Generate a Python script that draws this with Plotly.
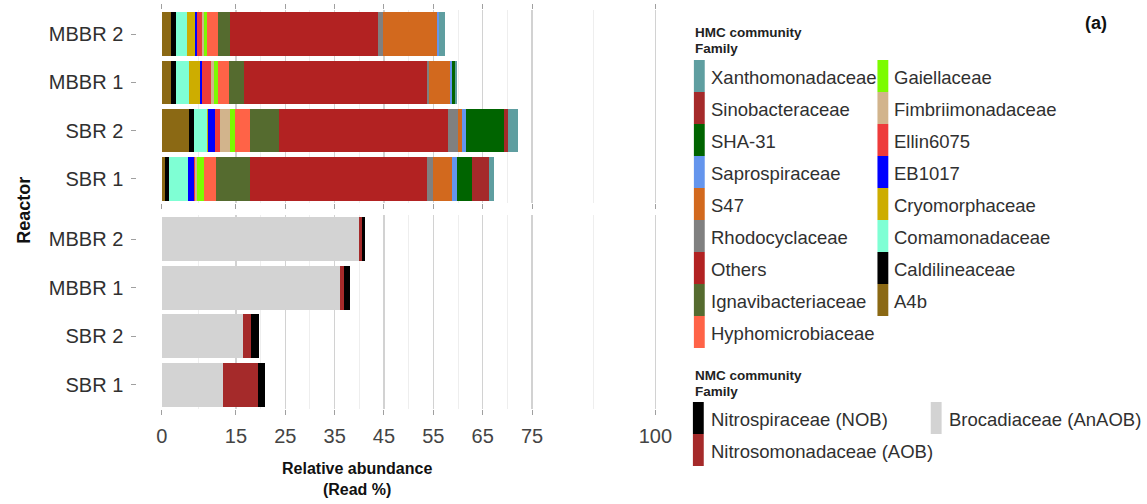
import plotly.graph_objects as go

W, H = 1147, 504

reactors = ['MBBR 2', 'MBBR 1', 'SBR 2', 'SBR 1']
reactor_order_bottom_up = ['SBR 1', 'SBR 2', 'MBBR 1', 'MBBR 2']

# HMC community families (stack order, left to right)
hmc_families = ['A4b', 'Caldilineaceae', 'Comamonadaceae', 'Cryomorphaceae', 'EB1017',
                'Ellin6075', 'Fimbriimonadaceae', 'Gaiellaceae', 'Hyphomicrobiaceae',
                'Ignavibacteriaceae', 'Others', 'Rhodocyclaceae', 'S47', 'Saprospiraceae',
                'SHA-31', 'Sinobacteraceae', 'Xanthomonadaceae']
hmc_colors = ['#8B6914', '#000000', '#7FFFD4', '#CDAD00', '#0000FF',
              '#EE3B3B', '#D2B48C', '#7CFC00', '#FF6347',
              '#556B2F', '#B22222', '#808080', '#D2691E', '#6495ED',
              '#006400', '#A52A2A', '#5F9EA0']
# values for [MBBR 2, MBBR 1, SBR 2, SBR 1]
A4b = [1.9, 1.9, 5.4, 0.7]
Caldilineaceae = [0.9, 0.9, 1.1, 0.8]
Comamonadaceae = [2.2, 2.7, 2.7, 3.7]
Cryomorphaceae = [1.6, 2.2, 0.1, 0.0]
EB1017 = [0.5, 0.5, 1.5, 1.2]
Ellin6075 = [1.0, 1.8, 1.0, 0.3]
Fimbriimonadaceae = [0.5, 0.6, 1.9, 0.4]
Gaiellaceae = [0.6, 0.7, 1.1, 1.5]
Hyphomicrobiaceae = [2.2, 2.3, 3.0, 2.4]
Ignavibacteriaceae = [2.3, 3.0, 5.9, 6.8]
Others = [30.0, 37.2, 34.3, 35.9]
Rhodocyclaceae = [1.0, 0.4, 1.9, 1.3]
S47 = [11.0, 4.2, 0.9, 3.7]
Saprospiraceae = [0.4, 0.3, 0.8, 1.1]
SHA_31 = [0.0, 0.6, 7.7, 3.1]
Sinobacteraceae = [0.0, 0.1, 0.8, 3.3]
Xanthomonadaceae = [1.3, 0.4, 2.1, 1.0]
hmc_values = [A4b, Caldilineaceae, Comamonadaceae, Cryomorphaceae, EB1017, Ellin6075,
              Fimbriimonadaceae, Gaiellaceae, Hyphomicrobiaceae, Ignavibacteriaceae, Others,
              Rhodocyclaceae, S47, Saprospiraceae, SHA_31, Sinobacteraceae, Xanthomonadaceae]

# NMC community families (stack order)
nmc_families = ['Brocadiaceae (AnAOB)', 'Nitrosomonadaceae (AOB)', 'Nitrospiraceae (NOB)']
nmc_colors = ['#D3D3D3', '#A52A2A', '#000000']
Brocadiaceae = [39.9, 36.1, 16.4, 12.4]
Nitrosomonadaceae = [0.6, 0.7, 1.7, 7.0]
Nitrospiraceae = [0.7, 1.3, 1.5, 1.5]
nmc_values = [Brocadiaceae, Nitrosomonadaceae, Nitrospiraceae]

x_tickvals = [0, 15, 25, 35, 45, 55, 65, 75, 100]
x_minor = [7.5, 20, 30, 40, 50, 60, 70, 87.5]

FONT = 'Liberation Sans, Arial, sans-serif'

def px(x):
    return x / W

def py(y):
    return 1 - y / H

fig = go.Figure()
for fam, col, vals in zip(hmc_families, hmc_colors, hmc_values):
    fig.add_trace(go.Bar(y=reactors, x=vals, name=fam, orientation='h',
                         marker=dict(color=col, line=dict(width=0)),
                         xaxis='x2', yaxis='y2', showlegend=False))
for fam, col, vals in zip(nmc_families, nmc_colors, nmc_values):
    fig.add_trace(go.Bar(y=reactors, x=vals, name=fam, orientation='h',
                         marker=dict(color=col, line=dict(width=0)),
                         xaxis='x', yaxis='y', showlegend=False))

x_left, x_right = 158, 665.5
xr = [0, (x_right - x_left) / 5.0]
common_x = dict(range=xr, tickvals=x_tickvals, ticktext=[str(v) for v in x_tickvals],
                showgrid=True, gridcolor='#D2D2D2', gridwidth=1.2,
                minor=dict(tickvals=x_minor, showgrid=True, gridcolor='#EEEEEE', gridwidth=1, ticks=''),
                ticks='outside', ticklen=5, tickcolor='#A0A0A0', tickwidth=1,
                zeroline=False, showline=False, fixedrange=True)
common_y = dict(categoryorder='array', categoryarray=reactor_order_bottom_up,
                showgrid=False, zeroline=False, showline=False,
                ticks='outside', ticklen=5, tickcolor='#A0A0A0', tickwidth=1,
                tickfont=dict(family=FONT, size=20, color='#303030'),
                anchor='free', position=px(132), ticklabelstandoff=4, fixedrange=True)

fig.update_layout(
    width=W, height=H, margin=dict(l=0, r=0, t=0, b=0),
    paper_bgcolor='white', plot_bgcolor='white',
    barmode='stack', bargap=0.1,
    font=dict(family=FONT, color='#303030'),
    xaxis=dict(domain=[px(x_left), px(x_right)], anchor='y',
               tickfont=dict(family=FONT, size=20, color='#444444'),
               ticklabelstandoff=4, **common_x),
    xaxis2=dict(domain=[px(x_left), px(x_right)], anchor='y2', matches='x',
                showticklabels=False, mirror='ticks', **common_x),
    yaxis=dict(domain=[py(409), py(215)], **common_y),
    yaxis2=dict(domain=[py(203), py(10)], **common_y),
)

annotations = []
shapes = []
# axis titles
annotations.append(dict(x=px(356), y=py(479), xref='paper', yref='paper',
                        text='<b>Relative abundance</b><br><b>(Read %)</b>',
                        showarrow=False, font=dict(family=FONT, size=16, color='#111111'),
                        xanchor='center', yanchor='middle', align='center'))
annotations.append(dict(x=px(18), y=py(210), xref='paper', yref='paper', text='<b>Reactor</b>',
                        showarrow=False, textangle=-90, font=dict(family=FONT, size=18, color='#111111'),
                        xanchor='center', yanchor='middle'))
annotations.append(dict(x=px(1104), y=py(23), xref='paper', yref='paper', text='<b>(a)</b>',
                        showarrow=False, font=dict(family=FONT, size=18, color='#111111'),
                        xanchor='center', yanchor='middle'))

def legend_block(title_y, families, colors, ncol1, key_x, text_x, top, step, kw):
    annotations.append(dict(x=px(696), y=py(title_y), xref='paper', yref='paper',
                            text='<b>%s community</b>' % kw, showarrow=False,
                            font=dict(family=FONT, size=13.5, color='#222222'),
                            xanchor='left', yanchor='middle'))
    annotations.append(dict(x=px(696), y=py(title_y + 16), xref='paper', yref='paper',
                            text='<b>Family</b>', showarrow=False,
                            font=dict(family=FONT, size=13.5, color='#222222'),
                            xanchor='left', yanchor='middle'))
    for i, (fam, col) in enumerate(zip(families, colors)):
        c = 0 if i < ncol1 else 1
        r = i if i < ncol1 else i - ncol1
        y0 = top + r * step
        shapes.append(dict(type='rect', xref='paper', yref='paper',
                           x0=px(key_x[c]), x1=px(key_x[c] + 11),
                           y0=py(y0), y1=py(y0 + step), fillcolor=col, line=dict(width=0)))
        annotations.append(dict(x=px(text_x[c]), y=py(y0 + step / 2 + 1), xref='paper', yref='paper',
                                text=fam, showarrow=False,
                                font=dict(family=FONT, size=18.5, color='#303030'),
                                xanchor='left', yanchor='middle'))

legend_block(33, hmc_families[::-1], hmc_colors[::-1], 9, [697, 883], [712, 898], 60, 32, 'HMC')
legend_block(375, nmc_families[::-1], nmc_colors[::-1], 2, [696, 937], [712, 953], 402, 32, 'NMC')

fig.update_layout(annotations=annotations, shapes=shapes)
fig.write_html('out.html', config={'displayModeBar': False, 'staticPlot': True},
               post_script="document.body.style.margin='0';document.body.style.padding='0';")
